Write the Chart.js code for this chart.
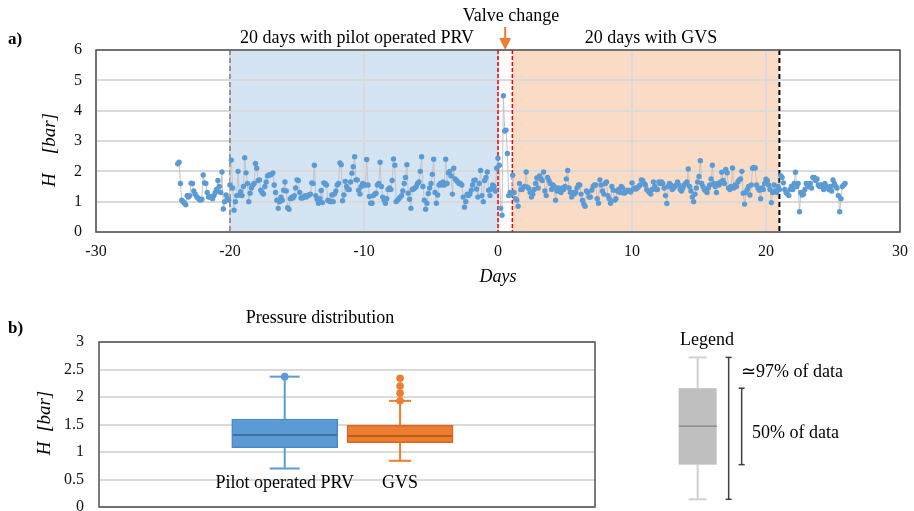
<!DOCTYPE html>
<html lang="en">
<head>
<meta charset="UTF-8">
<title>Pressure before and after valve change</title>
<script src="https://cdn.jsdelivr.net/npm/chart.js@4.4.1/dist/chart.umd.min.js"></script>
<style>
  html, body { margin: 0; padding: 0; background: #fff; }
  #wrap { position: relative; width: 914px; height: 511px; overflow: hidden; }
  canvas { position: absolute; left: 0; }
  #pressureChart { top: 0; }
  #boxChart { top: 290px; }
</style>
</head>
<body>
<div id="wrap">
  <canvas id="pressureChart" width="914" height="290"></canvas>
  <canvas id="boxChart" width="914" height="221"></canvas>
</div>

<script>
// --- a) pressure time series, one reading every 0.1 day starting at day -23.9
const firstDay = -23.9;
const stepDays = 0.1;

// before the PRV window (-23.9 .. -20.1)
const hBefore = [
  2.25, 2.3, 1.6, 1.05, 1.0, 0.95, 0.9, 1.2, 1.15,
  1.2, 1.61, 1.6, 1.35, 1.25, 1.17, 1.12, 1.08, 1.05, 1.08,
  1.88, 1.62, 1.6, 1.3, 1.15, 1.15, 1.17, 1.1, 1.2, 1.3,
  1.4, 1.7, 1.5, 1.3, 1.98, 0.76, 1.0, 1.22, 1.1, 1.05
];
// 20 days with pilot operated PRV (-20.0 .. -0.1)
const hPrv = [
  1.55, 2.37, 1.45, 0.72, 1.0, 1.2, 2.0, 1.22, 1.33, 1.2,
  1.5, 2.45, 1.95, 1.6, 1.0, 1.28, 1.45, 1.55, 1.6, 2.26,
  2.1, 1.7, 1.72, 1.38, 1.3, 1.25, 1.5, 1.65, 1.85, 1.88,
  1.88, 1.9, 1.95, 1.55, 1.3, 1.05, 0.78, 1.0, 1.15, 1.05,
  1.38, 1.65, 1.35, 0.8, 0.75, 1.1, 1.15, 1.12, 1.2, 1.45,
  1.72, 1.7, 1.3, 1.12, 1.12, 1.15, 1.2, 1.15, 1.2, 1.22,
  1.25, 1.62, 1.6, 2.2, 1.2, 1.08, 0.95, 1.1, 1.37, 0.97,
  1.62, 1.6, 1.55, 1.05, 1.02, 1.0, 1.22, 1.0, 1.25, 1.35,
  1.55, 1.6, 2.28, 2.22, 1.03, 1.22, 1.67, 1.5, 1.4, 1.4,
  1.65, 1.94, 2.15, 2.48, 1.72, 1.72, 1.38, 1.25, 1.5, 1.6,
  1.55, 1.55, 2.39, 1.55, 1.17, 0.95, 0.95, 1.2, 1.25, 1.28,
  1.55, 1.6, 2.3, 1.5, 1.15, 1.05, 0.95, 1.1, 1.4, 1.45,
  1.4, 1.7, 2.41, 2.2, 1.0, 1.05, 1.1, 1.15, 1.2, 1.35,
  1.6, 1.8, 2.22, 1.28, 1.08, 0.78, 1.4, 1.42, 1.45, 1.5,
  1.6, 1.65, 2.0, 2.48, 1.5, 1.05, 0.75, 0.95, 1.27, 1.45,
  1.6, 1.9, 2.4, 1.3, 0.95, 1.22, 1.55, 1.6, 1.55, 1.65,
  1.55, 2.4, 1.6, 1.95, 2.0, 1.85, 1.25, 2.1, 1.75, 1.7,
  1.65, 1.6, 1.6, 1.55, 1.15, 0.82, 1.0, 1.25, 1.2, 1.25,
  1.38, 1.55, 1.7, 1.72, 1.42, 1.15, 1.6, 2.03, 1.2, 1.0,
  1.7, 1.8, 1.98, 1.38, 1.2, 1.42, 1.55, 1.5, 1.35, 2.1
];
// valve change day (0.0 .. 0.9)
const hChange = [2.43, 2.2, 0.78, 0.55, 4.49, 3.33, 3.36, 2.59, 1.2, 1.3];
// 20 days with GVS (1.0 .. 20.9)
const hGvs = [
  1.25, 1.87, 1.3, 1.1, 1.05, 0.85, 1.6, 1.4, 1.4, 1.48,
  1.5, 1.98, 1.48, 1.43, 1.3, 1.15, 1.25, 1.4, 1.6, 1.78,
  1.45, 1.85, 1.75, 1.7, 1.98, 1.35, 1.2, 1.8, 1.7, 1.6,
  1.4, 1.55, 1.5, 1.05, 1.35, 1.45, 1.35, 1.3, 1.45, 1.4,
  1.5, 1.75, 2.03, 1.45, 1.3, 1.15, 1.3, 1.25, 1.3, 1.45,
  1.55, 1.55, 1.25, 1.05, 0.92, 0.85, 1.35, 1.3, 1.15, 1.15,
  1.38, 1.5, 1.55, 1.55, 1.1, 0.95, 1.72, 1.55, 1.35, 1.25,
  1.6, 1.65, 1.2, 1.1, 0.95, 1.5, 1.38, 1.05, 1.1, 1.35,
  1.4, 1.3, 1.5, 1.45, 1.28, 1.3, 1.35, 1.38, 1.35, 1.32,
  1.62, 1.42, 1.45, 1.42, 1.45, 1.5, 1.55, 1.72, 1.7, 1.6,
  1.55, 1.4, 1.35, 1.3, 1.25, 1.4, 1.65, 1.5, 1.4, 1.4,
  1.65, 1.6, 1.65, 1.6, 1.45, 1.2, 0.94, 1.5, 1.6, 1.55,
  1.4, 1.45, 1.5, 1.55, 1.65, 1.55, 1.4, 1.35, 1.45, 1.55,
  1.6, 1.65, 2.08, 1.5, 1.35, 1.15, 1.0, 1.25, 1.45, 1.65,
  1.83, 2.35, 1.6, 1.5, 1.4, 1.35, 1.3, 1.45, 1.55, 1.75,
  2.2, 1.6, 1.5, 1.3, 1.6, 1.55, 1.65, 1.97, 1.7, 1.6,
  2.06, 1.95, 1.45, 1.4, 1.5, 2.11, 1.45, 1.55, 1.5, 1.65,
  1.72, 1.75, 2.0, 1.28, 0.92, 1.3, 1.4, 1.5, 1.22, 1.55,
  2.1, 2.13, 2.11, 1.55, 1.45, 1.38, 1.1, 1.45, 1.4, 1.6,
  1.74, 1.7, 1.55, 1.4, 0.97, 1.3, 1.55, 1.35, 1.3, 1.5
];
// after the GVS window (21.0 .. 25.9)
const hAfter = [
  1.4, 1.86, 1.8, 1.62, 1.4, 1.3, 1.25, 1.2, 1.4, 1.5,
  1.4, 1.6, 1.97, 1.5, 1.6, 0.67, 1.3, 1.22, 1.25, 1.4,
  1.6, 1.55, 1.5, 1.6, 1.45, 1.8, 1.8, 1.7, 1.75, 1.55,
  1.5, 1.55, 1.55, 1.4, 1.6, 1.5, 1.45, 1.4, 1.5, 1.35,
  1.72, 1.6, 1.5, 1.45, 1.2, 0.67, 1.1, 1.5, 1.55, 1.6
];

const prvPeriod = [-20, 0];
const gvsPeriod = [1.07, 21];

// --- b) box plot statistics
const boxNames = ['Pilot operated PRV', 'GVS'];
const boxLow = [0.70, 0.84];
const boxQ1 = [1.08, 1.17];
const boxMedian = [1.31, 1.29];
const boxQ3 = [1.60, 1.49];
const boxHigh = [2.37, 1.93];
const prvOutliers = [2.37];
const gvsOutliers = [1.93, 2.07, 2.20, 2.34];
// generic box used in the legend: low, q1, median, q3, high
const legendStats = [0.14, 0.77, 1.47, 2.16, 2.72];

const SERIF = '"Liberation Serif", "Times New Roman", serif';
const BLUE = '#5b9bd5';
const ORANGE = '#ed7d31';

const pressure = [].concat(hBefore, hPrv, hChange, hGvs, hAfter);
const points = pressure.map((h, i) => ({ x: +(firstDay + i * stepDays).toFixed(2), y: h }));

function vline(ctx, px, top, bottom, color, width, dash) {
    ctx.save();
    ctx.strokeStyle = color;
    ctx.lineWidth = width;
    ctx.setLineDash(dash || []);
    ctx.beginPath();
    ctx.moveTo(px, top);
    ctx.lineTo(px, bottom);
    ctx.stroke();
    ctx.restore();
}

function hline(ctx, py, left, right, color, width) {
    ctx.save();
    ctx.strokeStyle = color;
    ctx.lineWidth = width;
    ctx.beginPath();
    ctx.moveTo(left, py);
    ctx.lineTo(right, py);
    ctx.stroke();
    ctx.restore();
}

function text(ctx, str, x, y, font, align) {
    ctx.save();
    ctx.font = font;
    ctx.fillStyle = '#000';
    ctx.textAlign = align || 'center';
    ctx.textBaseline = 'alphabetic';
    ctx.fillText(str, x, y);
    ctx.restore();
}

function vtext(ctx, str, x, y, font) {
    ctx.save();
    ctx.translate(x, y);
    ctx.rotate(-Math.PI / 2);
    ctx.font = font;
    ctx.fillStyle = '#000';
    ctx.textAlign = 'center';
    ctx.textBaseline = 'alphabetic';
    ctx.fillText(str, 0, 0);
    ctx.restore();
}

function frame(chart) {
    const { ctx, chartArea: a } = chart;
    ctx.save();
    ctx.strokeStyle = '#505050';
    ctx.lineWidth = 1.5;
    ctx.strokeRect(a.left, a.top, a.right - a.left, a.bottom - a.top);
    ctx.restore();
}

// stop Chart.js from reserving room for the outer tick labels
function fixWidth(w) {
    return s => { s.width = w; s.paddingTop = 0; s.paddingBottom = 0; };
}
function fixHeight(h) {
    return s => { s.height = h; s.paddingLeft = 0; s.paddingRight = 0; };
}

const pressureDecor = {
    id: 'pressureDecor',
    beforeDraw(chart) {
        const { ctx, chartArea: a, scales: { x } } = chart;
        ctx.save();
        ctx.fillStyle = '#d5e4f3';
        let l = x.getPixelForValue(prvPeriod[0]), r = x.getPixelForValue(prvPeriod[1]);
        ctx.fillRect(l, a.top, r - l, a.bottom - a.top);
        ctx.fillStyle = '#fadcc6';
        l = x.getPixelForValue(gvsPeriod[0]); r = x.getPixelForValue(gvsPeriod[1]);
        ctx.fillRect(l, a.top, r - l, a.bottom - a.top);
        ctx.restore();
    },
    beforeDatasetsDraw(chart) {
        const { ctx, chartArea: a, scales: { x } } = chart;
        vline(ctx, x.getPixelForValue(prvPeriod[0]), a.top, a.bottom, '#808080', 1.5, [5, 3]);
        vline(ctx, x.getPixelForValue(prvPeriod[1]), a.top, a.bottom, '#ff0000', 1.5, [4, 2]);
        vline(ctx, x.getPixelForValue(gvsPeriod[0]), a.top, a.bottom, '#ff0000', 1.5, [4, 2]);
        vline(ctx, x.getPixelForValue(gvsPeriod[1]), a.top, a.bottom, '#000', 2, [5, 3]);
    },
    afterDraw(chart) {
        const { ctx, chartArea: a, scales: { x } } = chart;
        frame(chart);

        // arrow pointing at the valve change window
        const ax = (x.getPixelForValue(prvPeriod[1]) + x.getPixelForValue(gvsPeriod[0])) / 2;
        ctx.save();
        ctx.strokeStyle = ORANGE;
        ctx.fillStyle = ORANGE;
        ctx.lineWidth = 2;
        ctx.beginPath();
        ctx.moveTo(ax, 27);
        ctx.lineTo(ax, 39);
        ctx.stroke();
        ctx.beginPath();
        ctx.moveTo(ax - 6, 38);
        ctx.lineTo(ax + 6, 38);
        ctx.lineTo(ax, a.top);
        ctx.closePath();
        ctx.fill();
        ctx.restore();

        text(ctx, 'Valve change', 511, 21, '18px ' + SERIF);
        text(ctx, '20 days with pilot operated PRV', 357, 43, '18px ' + SERIF);
        text(ctx, '20 days with GVS', 651, 43, '18px ' + SERIF);
        text(ctx, 'a)', 8, 44, 'bold 17px ' + SERIF, 'left');
        text(ctx, 'Days', (a.left + a.right) / 2, 282, 'italic 18px ' + SERIF);
        vtext(ctx, 'H    [bar]', 55, 150, 'italic 19px ' + SERIF);
    }
};

new Chart(document.getElementById('pressureChart'), {
    type: 'scatter',
    data: {
        datasets: [{
            data: points,
            showLine: true,
            borderColor: '#c4c4c4',
            borderWidth: 1,
            pointRadius: 2.7,
            pointBackgroundColor: BLUE,
            pointBorderWidth: 0,
            pointHoverRadius: 0
        }]
    },
    options: {
        responsive: false,
        animation: false,
        events: [],
        layout: { padding: { top: 50, right: 14, left: 0, bottom: 0 } },
        plugins: { legend: { display: false }, tooltip: { enabled: false } },
        scales: {
            x: {
                type: 'linear', min: -30, max: 30,
                ticks: { stepSize: 10, padding: 10, color: '#111', font: { family: SERIF, size: 16 } },
                grid: { color: '#dadada', lineWidth: 2, drawTicks: false },
                border: { display: false },
                afterFit: fixHeight(58)
            },
            y: {
                min: 0, max: 6,
                ticks: { stepSize: 1, padding: 14, color: '#111', font: { family: SERIF, size: 16 } },
                grid: { color: '#dadada', lineWidth: 2, drawTicks: false },
                border: { display: false },
                afterFit: fixWidth(96)
            }
        }
    },
    plugins: [pressureDecor]
});

// --- b) box plots
const boxColors = [
    { fill: BLUE, edge: '#4a88c6', median: '#3f6f9c', capHalf: 15 },
    { fill: ORANGE, edge: '#d4691f', median: '#c25a12', capHalf: 11 }
];

const boxDecor = {
    id: 'boxDecor',
    beforeDatasetsDraw(chart) {
        const { ctx, scales: { x, y } } = chart;
        boxNames.forEach((n, i) => {
            const c = boxColors[i];
            const px = x.getPixelForValue(i);
            vline(ctx, px, y.getPixelForValue(boxLow[i]), y.getPixelForValue(boxQ1[i]), c.fill, 2);
            vline(ctx, px, y.getPixelForValue(boxQ3[i]), y.getPixelForValue(boxHigh[i]), c.fill, 2);
            hline(ctx, y.getPixelForValue(boxLow[i]), px - c.capHalf, px + c.capHalf, c.fill, 2);
            hline(ctx, y.getPixelForValue(boxHigh[i]), px - c.capHalf, px + c.capHalf, c.fill, 2);
        });
    },
    afterDatasetsDraw(chart) {
        const { ctx, scales: { x, y } } = chart;
        boxNames.forEach((n, i) => {
            const px = x.getPixelForValue(i);
            hline(ctx, y.getPixelForValue(boxMedian[i]), px - 52, px + 52, boxColors[i].median, 2);
        });
    },
    afterDraw(chart) {
        const { ctx, chartArea: a, scales: { x, y } } = chart;
        frame(chart);

        // category names sit inside the plot, under each box
        boxNames.forEach((n, i) => text(ctx, n, x.getPixelForValue(i), a.bottom - 19, '18px ' + SERIF));

        // legend box, drawn on the same value scale
        const lx = x.getPixelForValue(3.58);
        const [lo, q1, md, q3, hi] = legendStats.map(v => y.getPixelForValue(v));
        vline(ctx, lx, lo, q1, '#d0d0d0', 2);
        vline(ctx, lx, q3, hi, '#d0d0d0', 2);
        hline(ctx, lo, lx - 9, lx + 9, '#d0d0d0', 2);
        hline(ctx, hi, lx - 9, lx + 9, '#d0d0d0', 2);
        ctx.save();
        ctx.fillStyle = '#bfbfbf';
        ctx.fillRect(lx - 19, q3, 38, q1 - q3);
        ctx.restore();
        hline(ctx, md, lx - 19, lx + 19, '#808080', 1.2);

        // brackets
        [[31, lo, hi], [44, q1, q3]].forEach(([dx, b, t]) => {
            vline(ctx, lx + dx, t, b, '#404040', 1.5);
            hline(ctx, t, lx + dx - 3, lx + dx + 3, '#404040', 1.5);
            hline(ctx, b, lx + dx - 3, lx + dx + 3, '#404040', 1.5);
        });

        text(ctx, 'Legend', 707, 55, '18px ' + SERIF);
        text(ctx, '\u224397% of data', 741, 87, '18px ' + SERIF, 'left');
        text(ctx, '50% of data', 752, 148, '18px ' + SERIF, 'left');
        text(ctx, 'Pressure distribution', 320, 33, '18px ' + SERIF);
        text(ctx, 'b)', 8, 43, 'bold 17px ' + SERIF, 'left');
        vtext(ctx, 'H  [bar]', 50, 133, 'italic 19px ' + SERIF);
    }
};

new Chart(document.getElementById('boxChart'), {
    type: 'bar',
    data: {
        datasets: [
            {
                type: 'bar',
                data: [{ x: 0, y: [boxQ1[0], boxQ3[0]] }],
                backgroundColor: BLUE, borderColor: boxColors[0].edge,
                borderWidth: 1.5, borderSkipped: false, barThickness: 106, grouped: false
            },
            {
                type: 'bar',
                data: [{ x: 1, y: [boxQ1[1], boxQ3[1]] }],
                backgroundColor: ORANGE, borderColor: boxColors[1].edge,
                borderWidth: 1.5, borderSkipped: false, barThickness: 106, grouped: false
            },
            {
                type: 'scatter',
                data: prvOutliers.map(v => ({ x: 0, y: v })),
                pointRadius: 3.8, pointBackgroundColor: BLUE, pointBorderWidth: 0
            },
            {
                type: 'scatter',
                data: gvsOutliers.map(v => ({ x: 1, y: v })),
                pointRadius: 3.8, pointBackgroundColor: ORANGE, pointBorderWidth: 0
            }
        ]
    },
    options: {
        responsive: false,
        animation: false,
        events: [],
        layout: { padding: { top: 52, right: 319, left: 0, bottom: 0 } },
        plugins: { legend: { display: false }, tooltip: { enabled: false } },
        scales: {
            x: {
                type: 'linear', min: -1.61, max: 2.69, offset: false,
                ticks: { display: false },
                grid: { display: false },
                border: { display: false },
                afterFit: fixHeight(2)
            },
            y: {
                min: 0, max: 3,
                ticks: { stepSize: 0.5, padding: 15, color: '#111', font: { family: SERIF, size: 16 }, callback: v => String(v) },
                grid: { color: '#dadada', lineWidth: 2, drawTicks: false },
                border: { display: false },
                afterFit: fixWidth(99)
            }
        }
    },
    plugins: [boxDecor]
});
</script>
</body>
</html>
